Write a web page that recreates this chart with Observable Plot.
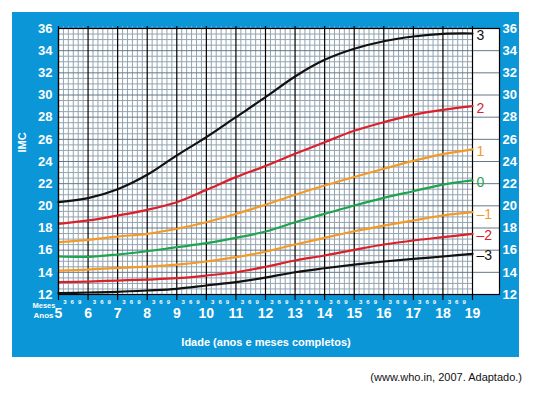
<!DOCTYPE html>
<html><head><meta charset="utf-8">
<script src="https://cdn.jsdelivr.net/npm/d3@7"></script>
<script src="https://cdn.jsdelivr.net/npm/@observablehq/plot@0.6"></script>
<style>
body{margin:0;background:#fff;font-family:"Liberation Sans",Arial,sans-serif;}
#wrap{position:relative;width:535px;height:395px;overflow:hidden;}
#bg{position:absolute;left:12px;top:12px;width:507px;height:345px;background:#0b96d8;}
#chart{position:absolute;left:0;top:0;}
#cap{position:absolute;left:0;top:371px;width:522px;text-align:right;font-size:11px;color:#111;}
</style></head><body>
<div id="wrap"><div id="bg"></div><div id="chart"></div><div id="cap"></div></div>
<script>
// ages in years
const ages = [5,6,7,8,9,10,11,12,13,14,15,16,17,18,19];
// z-score labels
const sdLabels = ["3","2","1","0","–1","–2","–3"];
// BMI values per z-score curve, one per age
const sdPlus3  = [20.33,20.70,21.50,22.80,24.55,26.20,28.00,29.80,31.67,33.17,34.17,34.85,35.28,35.52,35.55];
const sdPlus2  = [18.38,18.68,19.13,19.64,20.33,21.44,22.59,23.60,24.69,25.74,26.77,27.55,28.21,28.66,28.99];
const sdPlus1  = [16.72,16.93,17.23,17.47,17.93,18.52,19.27,20.10,21.00,21.83,22.60,23.34,24.06,24.66,25.10];
const sdZero   = [15.43,15.40,15.61,15.90,16.27,16.63,17.11,17.68,18.52,19.27,20.03,20.72,21.32,21.92,22.29];
const sdMinus1 = [14.16,14.25,14.40,14.52,14.70,14.98,15.37,15.86,16.51,17.11,17.71,18.22,18.68,19.13,19.43];
const sdMinus2 = [13.11,13.17,13.26,13.35,13.47,13.71,14.01,14.50,15.07,15.52,16.03,16.51,16.87,17.17,17.47];
const sdMinus3 = [12.12,12.18,12.24,12.36,12.51,12.81,13.11,13.53,14.01,14.37,14.70,14.98,15.22,15.43,15.67];
// tick labels
const yTicks = [12,14,16,18,20,22,24,26,28,30,32,34,36];
const monthTicks = [3,6,9];
const caption = "(www.who.in, 2007. Adaptado.)";
const xTitle = "Idade (anos e meses completos)";
const yTitle = "IMC";

// styles
const sdColors = ["#111111","#d9212b","#f39a26","#1ea34f","#f39a26","#d9212b","#111111"];
const minorColor = "#93a4b0";
const majorColor = "#63798a";
const white = "#ffffff";

const series = [sdPlus3, sdPlus2, sdPlus1, sdZero, sdMinus1, sdMinus2, sdMinus3];
const rows = [];
series.forEach((vals, i) => vals.forEach((v, j) => rows.push({sd: sdLabels[i], age: ages[j], v})));
const lastRows = series.map((vals, i) => ({sd: sdLabels[i], age: ages[ages.length-1], v: vals[vals.length-1]}));

const x0 = ages[0], x1 = ages[ages.length-1];
const minorX = [];
for (const a of ages.slice(0, -1)) for (const m of [2,4,6,8,10]) minorX.push(a + m/12);
const minorY = [];
for (let v = yTicks[0] + 0.5; v < yTicks[yTicks.length-1]; v += 0.5) if (v % 2 !== 0) minorY.push(v);
const monthRows = [];
for (const a of ages.slice(0, -1)) for (const m of monthTicks) monthRows.push({x: a + m/12, t: String(m)});

const mid = {lineAnchor: "middle"};
const chart = Plot.plot({
  width: 535, height: 360,
  marginLeft: 58, marginRight: 36, marginTop: 28, marginBottom: 66,
  x: {domain: [x0, x1 + 27/29.57], axis: null},
  y: {domain: [yTicks[0], yTicks[yTicks.length-1]], axis: null},
  color: {domain: sdLabels, range: sdColors},
  style: {fontFamily: "Liberation Sans, Arial, sans-serif", background: "transparent", overflow: "visible"},
  marks: [
    Plot.frame({fill: white}),
    Plot.ruleY(minorY, {x1: x0, x2: x1, stroke: minorColor, strokeWidth: 1}),
    Plot.ruleX(minorX, {stroke: minorColor, strokeWidth: 1, insetTop: -2}),
    Plot.ruleY(yTicks, {stroke: majorColor, strokeWidth: 1}),
    Plot.ruleX(ages, {stroke: "#000", strokeWidth: 1.2, insetBottom: -6, insetTop: -2}),
    Plot.line(rows, {x: "age", y: "v", z: "sd", stroke: "sd", strokeWidth: 2.2, curve: "catmull-rom"}),
    Plot.frame({stroke: "#000", strokeWidth: 1.2}),
    Plot.text(lastRows, {x: "age", y: "v", text: "sd", fill: "sd", dx: 4, dy: 2, textAnchor: "start", fontSize: 14}),
    Plot.text(yTicks, {y: d => d, text: d => String(d), frameAnchor: "left", dx: -6, textAnchor: "end", fill: white, fontWeight: "bold", fontSize: 13}),
    Plot.text(yTicks, {y: d => d, text: d => String(d), frameAnchor: "right", dx: 3, textAnchor: "start", fill: white, fontWeight: "bold", fontSize: 13}),
    Plot.text(ages, {...mid, x: d => d, text: d => String(d), frameAnchor: "bottom", dy: 19, fill: white, fontWeight: "bold", fontSize: 14}),
    Plot.text(monthRows, {...mid, x: "x", text: "t", frameAnchor: "bottom", dy: 8, dx: -1, fill: white, fontWeight: "bold", fontSize: 6}),
    Plot.text(["Meses"], {...mid, frameAnchor: "bottom-left", dx: -26, dy: 11, fill: white, fontWeight: "bold", fontSize: 7.5}),
    Plot.text(["Anos"], {...mid, frameAnchor: "bottom-left", dx: -25, dy: 21, fill: white, fontWeight: "bold", fontSize: 8}),
    Plot.text([xTitle], {...mid, frameAnchor: "bottom", dx: -13, dy: 48, fill: white, fontWeight: "bold", fontSize: 11}),
    Plot.text([yTitle], {frameAnchor: "left", dx: -36, dy: -9, rotate: -90, fill: white, fontWeight: "bold", fontSize: 11})
  ]
});
document.getElementById("chart").appendChild(chart);
document.getElementById("cap").textContent = caption;
</script>
</body></html>
